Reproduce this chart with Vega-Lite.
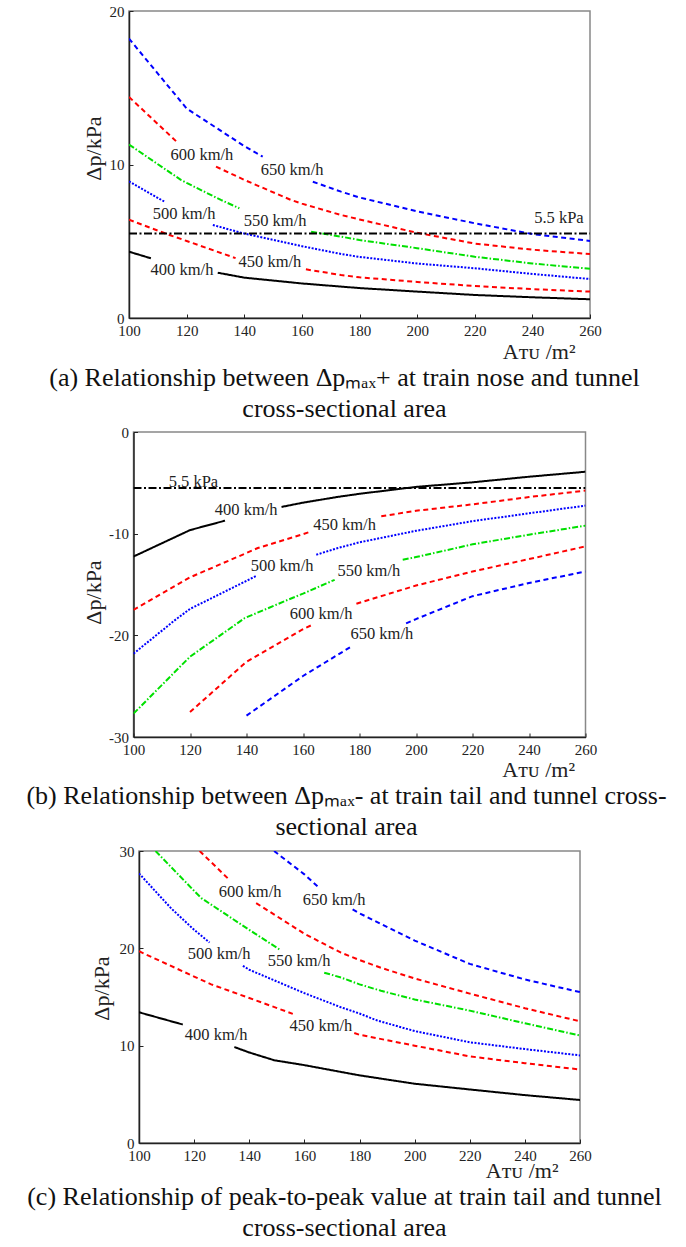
{
  "$schema": "https://vega.github.io/schema/vega-lite/v6.json",
  "background": "white",
  "autosize": {"type": "none"},
  "padding": {"left": 129, "top": 11, "right": 557, "bottom": 1236},
  "bounds": "flush",
  "center": true,
  "spacing": 114,
  "config": {
    "font": "Liberation Serif",
    "view": {"stroke": "#888888", "strokeWidth": 1.5},
    "axis": {"grid": false, "domainColor": "#222222", "domainWidth": 1.5, "tickColor": "#222222", "tickWidth": 1, "tickSize": -4, "labelFont": "Liberation Serif", "labelFontSize": 15, "labelColor": "#222222", "labelPadding": 9, "labelFlush": false, "labelOverlap": false, "titleFont": "Liberation Serif", "titleFontSize": 22, "titleFontWeight": "normal", "titleColor": "#222222"},
    "title": {"orient": "bottom", "anchor": "middle", "frame": "group", "fontSize": 26, "fontWeight": "normal", "font": "Liberation Serif", "color": "#111111", "lineHeight": 31, "offset": 3, "dx": -15}
  },
  "vconcat": [
    {
      "width": 461, "height": 307,
      "title": {"text": ["(a) Relationship between Δpₘₐₓ+ at train nose and tunnel", "cross-sectional area"]},
      "layer": [
        {
          "data": {"values": [
            {"A":100,"dp":4.32,"s":"400 km/h","seg":1},{"A":107.6,"dp":3.89,"s":"400 km/h","seg":1},
            {"A":130.8,"dp":2.95,"s":"400 km/h","seg":2},{"A":140,"dp":2.63,"s":"400 km/h","seg":2},{"A":160,"dp":2.25,"s":"400 km/h","seg":2},{"A":180,"dp":1.95,"s":"400 km/h","seg":2},{"A":200,"dp":1.72,"s":"400 km/h","seg":2},{"A":220,"dp":1.5,"s":"400 km/h","seg":2},{"A":240,"dp":1.35,"s":"400 km/h","seg":2},{"A":260,"dp":1.22,"s":"400 km/h","seg":2},
            {"A":100,"dp":6.4,"s":"450 km/h","seg":1},{"A":114,"dp":5.41,"s":"450 km/h","seg":1},{"A":120,"dp":5.02,"s":"450 km/h","seg":1},{"A":137,"dp":3.9,"s":"450 km/h","seg":1},
            {"A":161.4,"dp":3.17,"s":"450 km/h","seg":2},{"A":173.6,"dp":2.8,"s":"450 km/h","seg":2},{"A":180,"dp":2.65,"s":"450 km/h","seg":2},{"A":200,"dp":2.35,"s":"450 km/h","seg":2},{"A":220,"dp":2.08,"s":"450 km/h","seg":2},{"A":240,"dp":1.88,"s":"450 km/h","seg":2},{"A":260,"dp":1.72,"s":"450 km/h","seg":2},
            {"A":100,"dp":8.9,"s":"500 km/h","seg":1},{"A":112.3,"dp":7.58,"s":"500 km/h","seg":1},
            {"A":129.1,"dp":6.06,"s":"500 km/h","seg":2},{"A":140,"dp":5.5,"s":"500 km/h","seg":2},{"A":160,"dp":4.68,"s":"500 km/h","seg":2},{"A":173.6,"dp":4.17,"s":"500 km/h","seg":2},{"A":180,"dp":3.98,"s":"500 km/h","seg":2},{"A":200,"dp":3.55,"s":"500 km/h","seg":2},{"A":220,"dp":3.24,"s":"500 km/h","seg":2},{"A":240,"dp":2.87,"s":"500 km/h","seg":2},{"A":260,"dp":2.54,"s":"500 km/h","seg":2},
            {"A":100,"dp":11.3,"s":"550 km/h","seg":1},{"A":118,"dp":9.0,"s":"550 km/h","seg":1},{"A":120,"dp":8.8,"s":"550 km/h","seg":1},{"A":131.9,"dp":7.69,"s":"550 km/h","seg":1},{"A":138.3,"dp":7.15,"s":"550 km/h","seg":1},
            {"A":163.2,"dp":5.62,"s":"550 km/h","seg":2},{"A":173.6,"dp":5.3,"s":"550 km/h","seg":2},{"A":180,"dp":5.08,"s":"550 km/h","seg":2},{"A":200,"dp":4.55,"s":"550 km/h","seg":2},{"A":220,"dp":3.99,"s":"550 km/h","seg":2},{"A":240,"dp":3.55,"s":"550 km/h","seg":2},{"A":260,"dp":3.21,"s":"550 km/h","seg":2},
            {"A":100,"dp":14.4,"s":"600 km/h","seg":1},{"A":116.9,"dp":11.42,"s":"600 km/h","seg":1},
            {"A":130.2,"dp":9.86,"s":"600 km/h","seg":2},{"A":140,"dp":9.0,"s":"600 km/h","seg":2},{"A":156.2,"dp":7.69,"s":"600 km/h","seg":2},{"A":160,"dp":7.45,"s":"600 km/h","seg":2},{"A":173.6,"dp":6.71,"s":"600 km/h","seg":2},{"A":180,"dp":6.42,"s":"600 km/h","seg":2},{"A":200,"dp":5.55,"s":"600 km/h","seg":2},{"A":220,"dp":4.85,"s":"600 km/h","seg":2},{"A":240,"dp":4.45,"s":"600 km/h","seg":2},{"A":260,"dp":4.17,"s":"600 km/h","seg":2},
            {"A":100,"dp":18.2,"s":"650 km/h","seg":1},{"A":120,"dp":13.65,"s":"650 km/h","seg":1},{"A":140,"dp":11.2,"s":"650 km/h","seg":1},{"A":146.4,"dp":10.51,"s":"650 km/h","seg":1},
            {"A":163.8,"dp":8.88,"s":"650 km/h","seg":2},{"A":173.6,"dp":8.23,"s":"650 km/h","seg":2},{"A":180,"dp":7.85,"s":"650 km/h","seg":2},{"A":200,"dp":6.95,"s":"650 km/h","seg":2},{"A":220,"dp":6.17,"s":"650 km/h","seg":2},{"A":240,"dp":5.47,"s":"650 km/h","seg":2},{"A":260,"dp":5.02,"s":"650 km/h","seg":2},
            {"A":100,"dp":5.5,"s":"5.5 kPa","seg":1},{"A":260,"dp":5.5,"s":"5.5 kPa","seg":1}
          ]},
          "mark": {"type": "line", "strokeWidth": 2, "clip": true},
          "encoding": {
            "x": {"field": "A", "type": "quantitative", "scale": {"domain": [100, 260], "nice": false, "zero": false},
                  "axis": {"title": "Aᴛᴜ /m²", "values": [100,110,120,130,140,150,160,170,180,190,200,210,220,230,240,250,260], "labelExpr": "datum.value % 20 === 0 ? datum.value + '' : ''", "titleAnchor": "end", "titleAlign": "right", "titleBaseline": "alphabetic", "titleX": 446, "titleY": 40}},
            "y": {"field": "dp", "type": "quantitative", "scale": {"domain": [0, 20], "nice": false, "zero": false},
                  "axis": {"title": "Δp/kPa", "values": [0, 10, 20], "labelExpr": "datum.value + ''", "titleAngle": -90, "titleBaseline": "middle", "titleAlign": "center", "titleX": -36, "titleY": 137}},
            "color": {"field": "s", "type": "nominal", "legend": null, "scale": {"domain": ["400 km/h","450 km/h","500 km/h","550 km/h","600 km/h","650 km/h","5.5 kPa"], "range": ["#000000","#ff0000","#0000ff","#00e000","#ff0000","#0000ff","#000000"]}},
            "strokeDash": {"field": "s", "type": "nominal", "legend": null, "scale": {"domain": ["400 km/h","450 km/h","500 km/h","550 km/h","600 km/h","650 km/h","5.5 kPa"], "range": [[1,0],[5,3.5],[2,1.5],[6,2,1.5,2],[5,3.5],[5,3.5],[8,2.5,2,2.5]]}},
            "detail": {"field": "seg", "type": "nominal"}
          }
        },
        {
          "data": {"values": [
            {"A":156.6,"dp":9.64,"t":"650 km/h"},{"A":125.3,"dp":10.62,"t":"600 km/h"},{"A":150.7,"dp":6.32,"t":"550 km/h"},{"A":119.1,"dp":6.78,"t":"500 km/h"},{"A":148.9,"dp":3.62,"t":"450 km/h"},{"A":118.4,"dp":3.13,"t":"400 km/h"},{"A":249.2,"dp":6.49,"t":"5.5 kPa"}
          ]},
          "mark": {"type": "text", "font": "Liberation Serif", "fontSize": 16.5, "color": "#222222"},
          "encoding": {"x": {"field": "A", "type": "quantitative"}, "y": {"field": "dp", "type": "quantitative"}, "text": {"field": "t"}}
        }
      ]
    },
    {
      "width": 452, "height": 305,
      "title": {"text": ["(b) Relationship between Δpₘₐₓ- at train tail and tunnel cross-", "sectional area"], "dx": -13},
      "layer": [
        {
          "data": {"values": [
            {"A":100,"dp":-12.25,"s":"400 km/h","seg":1},{"A":120,"dp":-9.65,"s":"400 km/h","seg":1},{"A":132.4,"dp":-8.72,"s":"400 km/h","seg":1},
            {"A":152.4,"dp":-7.37,"s":"400 km/h","seg":2},{"A":160,"dp":-6.95,"s":"400 km/h","seg":2},{"A":172.4,"dp":-6.38,"s":"400 km/h","seg":2},{"A":180,"dp":-6.08,"s":"400 km/h","seg":2},{"A":200,"dp":-5.4,"s":"400 km/h","seg":2},{"A":220,"dp":-4.95,"s":"400 km/h","seg":2},{"A":240,"dp":-4.4,"s":"400 km/h","seg":2},{"A":260,"dp":-3.91,"s":"400 km/h","seg":2},
            {"A":100,"dp":-17.5,"s":"450 km/h","seg":1},{"A":120,"dp":-14.3,"s":"450 km/h","seg":1},{"A":140,"dp":-11.9,"s":"450 km/h","seg":1},{"A":144,"dp":-11.41,"s":"450 km/h","seg":1},{"A":160,"dp":-10.05,"s":"450 km/h","seg":1},{"A":162.9,"dp":-9.77,"s":"450 km/h","seg":1},
            {"A":187.7,"dp":-8.29,"s":"450 km/h","seg":2},{"A":200,"dp":-7.75,"s":"450 km/h","seg":2},{"A":220,"dp":-7.12,"s":"450 km/h","seg":2},{"A":240,"dp":-6.4,"s":"450 km/h","seg":2},{"A":260,"dp":-5.76,"s":"450 km/h","seg":2},
            {"A":100,"dp":-21.8,"s":"500 km/h","seg":1},{"A":114.7,"dp":-18.5,"s":"500 km/h","seg":1},{"A":120,"dp":-17.4,"s":"500 km/h","seg":1},{"A":140,"dp":-14.64,"s":"500 km/h","seg":1},{"A":143.5,"dp":-14.15,"s":"500 km/h","seg":1},
            {"A":164.7,"dp":-12.07,"s":"500 km/h","seg":2},{"A":172.4,"dp":-11.41,"s":"500 km/h","seg":2},{"A":180,"dp":-10.85,"s":"500 km/h","seg":2},{"A":200,"dp":-9.72,"s":"500 km/h","seg":2},{"A":220,"dp":-8.77,"s":"500 km/h","seg":2},{"A":240,"dp":-8.0,"s":"500 km/h","seg":2},{"A":260,"dp":-7.24,"s":"500 km/h","seg":2},
            {"A":100,"dp":-27.7,"s":"550 km/h","seg":1},{"A":120,"dp":-22.1,"s":"550 km/h","seg":1},{"A":139.4,"dp":-18.3,"s":"550 km/h","seg":1},{"A":154.7,"dp":-16.5,"s":"550 km/h","seg":1},{"A":160,"dp":-15.9,"s":"550 km/h","seg":1},{"A":171.2,"dp":-14.54,"s":"550 km/h","seg":1},
            {"A":195.3,"dp":-12.57,"s":"550 km/h","seg":2},{"A":200,"dp":-12.3,"s":"550 km/h","seg":2},{"A":220,"dp":-11.05,"s":"550 km/h","seg":2},{"A":240,"dp":-10.1,"s":"550 km/h","seg":2},{"A":260,"dp":-9.21,"s":"550 km/h","seg":2},
            {"A":120,"dp":-27.55,"s":"600 km/h","seg":1},{"A":140,"dp":-22.6,"s":"600 km/h","seg":1},{"A":160,"dp":-19.4,"s":"600 km/h","seg":1},{"A":163,"dp":-19.0,"s":"600 km/h","seg":1},
            {"A":178.9,"dp":-16.9,"s":"600 km/h","seg":2},{"A":180,"dp":-16.8,"s":"600 km/h","seg":2},{"A":200,"dp":-15.1,"s":"600 km/h","seg":2},{"A":220,"dp":-13.72,"s":"600 km/h","seg":2},{"A":240,"dp":-12.5,"s":"600 km/h","seg":2},{"A":260,"dp":-11.25,"s":"600 km/h","seg":2},
            {"A":140,"dp":-27.9,"s":"650 km/h","seg":1},{"A":160,"dp":-24.0,"s":"650 km/h","seg":1},{"A":177.1,"dp":-21.1,"s":"650 km/h","seg":1},
            {"A":196.5,"dp":-18.82,"s":"650 km/h","seg":2},{"A":200,"dp":-18.4,"s":"650 km/h","seg":2},{"A":220,"dp":-16.15,"s":"650 km/h","seg":2},{"A":240,"dp":-14.85,"s":"650 km/h","seg":2},{"A":260,"dp":-13.72,"s":"650 km/h","seg":2},
            {"A":100,"dp":-5.5,"s":"5.5 kPa","seg":1},{"A":260,"dp":-5.5,"s":"5.5 kPa","seg":1}
          ]},
          "mark": {"type": "line", "strokeWidth": 2, "clip": true},
          "encoding": {
            "x": {"field": "A", "type": "quantitative", "scale": {"domain": [100, 260], "nice": false, "zero": false},
                  "axis": {"title": "Aᴛᴜ /m²", "values": [100,110,120,130,140,150,160,170,180,190,200,210,220,230,240,250,260], "labelExpr": "datum.value % 20 === 0 ? datum.value + '' : ''", "titleAnchor": "end", "titleAlign": "right", "titleBaseline": "alphabetic", "titleX": 441, "titleY": 39}},
            "y": {"field": "dp", "type": "quantitative", "scale": {"domain": [-30, 0], "nice": false, "zero": false},
                  "axis": {"title": "Δp/kPa", "values": [-30, -20, -10, 0], "labelExpr": "datum.value + ''", "titleAngle": -90, "titleBaseline": "middle", "titleAlign": "center", "titleX": -40, "titleY": 160}},
            "color": {"field": "s", "type": "nominal", "legend": null, "scale": {"domain": ["400 km/h","450 km/h","500 km/h","550 km/h","600 km/h","650 km/h","5.5 kPa"], "range": ["#000000","#ff0000","#0000ff","#00e000","#ff0000","#0000ff","#000000"]}},
            "strokeDash": {"field": "s", "type": "nominal", "legend": null, "scale": {"domain": ["400 km/h","450 km/h","500 km/h","550 km/h","600 km/h","650 km/h","5.5 kPa"], "range": [[1,0],[5,3.5],[2,1.5],[6,2,1.5,2],[5,3.5],[5,3.5],[8,2.5,2,2.5]]}},
            "detail": {"field": "seg", "type": "nominal"}
          }
        },
        {
          "data": {"values": [
            {"A":121.2,"dp":-4.87,"t":"5.5 kPa"},{"A":139.9,"dp":-7.63,"t":"400 km/h"},{"A":174.7,"dp":-9.16,"t":"450 km/h"},{"A":152.6,"dp":-13.16,"t":"500 km/h"},{"A":183.3,"dp":-13.65,"t":"550 km/h"},{"A":166.4,"dp":-17.9,"t":"600 km/h"},{"A":187.9,"dp":-19.87,"t":"650 km/h"}
          ]},
          "mark": {"type": "text", "font": "Liberation Serif", "fontSize": 16.5, "color": "#222222"},
          "encoding": {"x": {"field": "A", "type": "quantitative"}, "y": {"field": "dp", "type": "quantitative"}, "text": {"field": "t"}}
        }
      ]
    },
    {
      "width": 441, "height": 292,
      "title": {"text": ["(c) Relationship of peak-to-peak value at train tail and tunnel", "cross-sectional area"]},
      "layer": [
        {
          "data": {"values": [
            {"A":100,"dp":13.43,"s":"400 km/h","seg":1},{"A":115.9,"dp":12.17,"s":"400 km/h","seg":1},
            {"A":134.6,"dp":9.86,"s":"400 km/h","seg":2},{"A":140,"dp":9.3,"s":"400 km/h","seg":2},{"A":149.1,"dp":8.5,"s":"400 km/h","seg":2},{"A":160,"dp":8.0,"s":"400 km/h","seg":2},{"A":173.3,"dp":7.3,"s":"400 km/h","seg":2},{"A":180,"dp":6.95,"s":"400 km/h","seg":2},{"A":200,"dp":6.09,"s":"400 km/h","seg":2},{"A":220,"dp":5.5,"s":"400 km/h","seg":2},{"A":240,"dp":4.92,"s":"400 km/h","seg":2},{"A":260,"dp":4.42,"s":"400 km/h","seg":2},
            {"A":100,"dp":19.7,"s":"450 km/h","seg":1},{"A":120,"dp":17.1,"s":"450 km/h","seg":1},{"A":126.2,"dp":16.3,"s":"450 km/h","seg":1},{"A":140,"dp":14.9,"s":"450 km/h","seg":1},{"A":155.8,"dp":13.27,"s":"450 km/h","seg":1},
            {"A":178.1,"dp":11.3,"s":"450 km/h","seg":2},{"A":180,"dp":11.12,"s":"450 km/h","seg":2},{"A":200,"dp":10.0,"s":"450 km/h","seg":2},{"A":220,"dp":8.9,"s":"450 km/h","seg":2},{"A":240,"dp":8.2,"s":"450 km/h","seg":2},{"A":260,"dp":7.55,"s":"450 km/h","seg":2},
            {"A":100,"dp":27.7,"s":"500 km/h","seg":1},{"A":108.1,"dp":25.2,"s":"500 km/h","seg":1},{"A":111.7,"dp":24.1,"s":"500 km/h","seg":1},{"A":120,"dp":21.9,"s":"500 km/h","seg":1},{"A":125.6,"dp":20.6,"s":"500 km/h","seg":1},
            {"A":137.7,"dp":18.2,"s":"500 km/h","seg":2},{"A":140,"dp":17.8,"s":"500 km/h","seg":2},{"A":160,"dp":15.4,"s":"500 km/h","seg":2},{"A":173.3,"dp":13.94,"s":"500 km/h","seg":2},{"A":180,"dp":13.3,"s":"500 km/h","seg":2},{"A":186.5,"dp":12.58,"s":"500 km/h","seg":2},{"A":200,"dp":11.5,"s":"500 km/h","seg":2},{"A":220,"dp":10.35,"s":"500 km/h","seg":2},{"A":240,"dp":9.65,"s":"500 km/h","seg":2},{"A":260,"dp":9.0,"s":"500 km/h","seg":2},
            {"A":106,"dp":30,"s":"550 km/h","seg":1},{"A":120,"dp":25.9,"s":"550 km/h","seg":1},{"A":122.6,"dp":25.16,"s":"550 km/h","seg":1},{"A":140,"dp":21.9,"s":"550 km/h","seg":1},{"A":150.9,"dp":19.9,"s":"550 km/h","seg":1},
            {"A":167.2,"dp":17.5,"s":"550 km/h","seg":2},{"A":173.3,"dp":17.0,"s":"550 km/h","seg":2},{"A":180,"dp":16.3,"s":"550 km/h","seg":2},{"A":187.8,"dp":15.64,"s":"550 km/h","seg":2},{"A":200,"dp":14.75,"s":"550 km/h","seg":2},{"A":220,"dp":13.6,"s":"550 km/h","seg":2},{"A":240,"dp":12.3,"s":"550 km/h","seg":2},{"A":260,"dp":11.05,"s":"550 km/h","seg":2},
            {"A":122,"dp":30,"s":"600 km/h","seg":1},{"A":132.2,"dp":27.2,"s":"600 km/h","seg":1},
            {"A":142.5,"dp":24.65,"s":"600 km/h","seg":2},{"A":160,"dp":21.5,"s":"600 km/h","seg":2},{"A":173.3,"dp":19.55,"s":"600 km/h","seg":2},{"A":180,"dp":18.8,"s":"600 km/h","seg":2},{"A":187.8,"dp":18.0,"s":"600 km/h","seg":2},{"A":200,"dp":16.9,"s":"600 km/h","seg":2},{"A":220,"dp":15.35,"s":"600 km/h","seg":2},{"A":240,"dp":13.85,"s":"600 km/h","seg":2},{"A":260,"dp":12.5,"s":"600 km/h","seg":2},
            {"A":149,"dp":30,"s":"650 km/h","seg":1},{"A":160,"dp":27.6,"s":"650 km/h","seg":1},{"A":165.4,"dp":26.2,"s":"650 km/h","seg":1},
            {"A":177.5,"dp":24.0,"s":"650 km/h","seg":2},{"A":180,"dp":23.6,"s":"650 km/h","seg":2},{"A":200,"dp":20.8,"s":"650 km/h","seg":2},{"A":220,"dp":18.4,"s":"650 km/h","seg":2},{"A":240,"dp":16.8,"s":"650 km/h","seg":2},{"A":260,"dp":15.5,"s":"650 km/h","seg":2}
          ]},
          "mark": {"type": "line", "strokeWidth": 2, "clip": true},
          "encoding": {
            "x": {"field": "A", "type": "quantitative", "scale": {"domain": [100, 260], "nice": false, "zero": false},
                  "axis": {"title": "Aᴛᴜ /m²", "values": [100,110,120,130,140,150,160,170,180,190,200,210,220,230,240,250,260], "labelExpr": "datum.value % 20 === 0 ? datum.value + '' : ''", "titleAnchor": "end", "titleAlign": "right", "titleBaseline": "alphabetic", "titleX": 419, "titleY": 34}},
            "y": {"field": "dp", "type": "quantitative", "scale": {"domain": [0, 30], "nice": false, "zero": false},
                  "axis": {"title": "Δp/kPa", "values": [0, 10, 20, 30], "labelExpr": "datum.value + ''", "titleAngle": -90, "titleBaseline": "middle", "titleAlign": "center", "titleX": -38, "titleY": 137}},
            "color": {"field": "s", "type": "nominal", "legend": null, "scale": {"domain": ["400 km/h","450 km/h","500 km/h","550 km/h","600 km/h","650 km/h","5.5 kPa"], "range": ["#000000","#ff0000","#0000ff","#00e000","#ff0000","#0000ff","#000000"]}},
            "strokeDash": {"field": "s", "type": "nominal", "legend": null, "scale": {"domain": ["400 km/h","450 km/h","500 km/h","550 km/h","600 km/h","650 km/h","5.5 kPa"], "range": [[1,0],[5,3.5],[2,1.5],[6,2,1.5,2],[5,3.5],[5,3.5],[8,2.5,2,2.5]]}},
            "detail": {"field": "seg", "type": "nominal"}
          }
        },
        {
          "data": {"values": [
            {"A":170.8,"dp":25.0,"t":"650 km/h"},{"A":140.3,"dp":25.75,"t":"600 km/h"},{"A":158.1,"dp":18.7,"t":"550 km/h"},{"A":129.1,"dp":19.4,"t":"500 km/h"},{"A":166,"dp":11.97,"t":"450 km/h"},{"A":128,"dp":11.05,"t":"400 km/h"}
          ]},
          "mark": {"type": "text", "font": "Liberation Serif", "fontSize": 16.5, "color": "#222222"},
          "encoding": {"x": {"field": "A", "type": "quantitative"}, "y": {"field": "dp", "type": "quantitative"}, "text": {"field": "t"}}
        }
      ]
    }
  ]
}
